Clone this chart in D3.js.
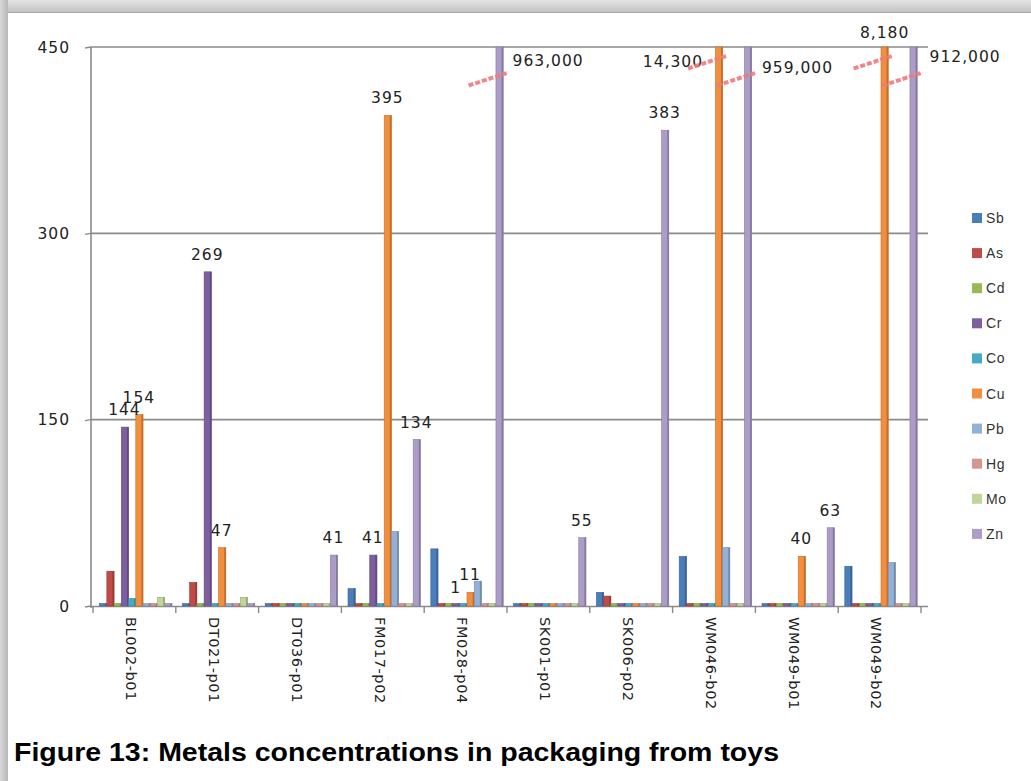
<!DOCTYPE html>
<html><head><meta charset="utf-8">
<script src="https://cdn.jsdelivr.net/npm/d3@7"></script>
<style>body{margin:0;background:#fff} svg{display:block}</style>
</head><body><svg id="c" width="1031" height="781"></svg>
<script>
const categories = ["BL002-b01","DT021-p01","DT036-p01","FM017-p02","FM028-p04","SK001-p01","SK006-p02","WM046-b02","WM049-b01","WM049-b02"];
const seriesNames = ["Sb","As","Cd","Cr","Co","Cu","Pb","Hg","Mo","Zn"];
const Sb = [0,0,0,14,46,0,11,40,0,32];
const As = [28,19,0,0,0,0,8,0,0,0];
const Cd = [0,0,0,0,0,0,0,0,0,0];
const Cr = [144,269,0,41,1,0,0,0,0,0];
const Co = [6,0,0,2,0,0,0,0,0,0];
const Cu = [154,47,0,395,11,0,0,14300,40,8180];
const Pb = [0,0,0,60,20,0,0,47,0,35];
const Hg = [0,0,0,0,0,0,0,0,0,0];
const Mo = [7,7,0,1,0,0,0,0,0,0];
const Zn = [0,0,41,134,963000,55,383,959000,63,912000];
const yTicks = [0,150,300,450];
const labelledSeries = ["Cr","Cu","Zn"];
const captionText = "Figure 13: Metals concentrations in packaging from toys";

const seriesValues = {Sb,As,Cd,Cr,Co,Cu,Pb,Hg,Mo,Zn};
const colors = {Sb:"#4a7ebb",As:"#be4b48",Cd:"#98b954",Cr:"#7d5fa0",Co:"#46aac4",
  Cu:"#f38e3c",Pb:"#93b1d6",Hg:"#d69593",Mo:"#c1d599",Zn:"#ab9cc8"};

const svg = d3.select("#c");

// frame
const defs = svg.append("defs");
const gt = defs.append("linearGradient").attr("id","gt").attr("x1",0).attr("y1",0).attr("x2",0).attr("y2",1);
gt.append("stop").attr("offset","0%").attr("stop-color","#e4e4e4");
gt.append("stop").attr("offset","100%").attr("stop-color","#c4c4c4");
const gl = defs.append("linearGradient").attr("id","gl").attr("x1",0).attr("y1",0).attr("x2",1).attr("y2",0);
gl.append("stop").attr("offset","0%").attr("stop-color","#d8d8d8");
gl.append("stop").attr("offset","100%").attr("stop-color","#b8b8b8");
svg.append("rect").attr("x",0).attr("y",0).attr("width",1031).attr("height",12).attr("fill","url(#gt)");
svg.append("rect").attr("x",0).attr("y",0).attr("width",8).attr("height",781).attr("fill","url(#gl)");
svg.append("line").attr("x1",8).attr("x2",1031).attr("y1",12.5).attr("y2",12.5).attr("stroke","#a8a8a8");

const x0 = d3.scaleBand().domain(categories).range([93, 921]).padding(0);
const x1 = d3.scaleBand().domain(seriesNames).range([6.6, 79]).padding(0);
const y = d3.scaleLinear().domain([0,450]).range([606,47]).clamp(true);

const axisCol = "#8a8a8a";
// gridlines
yTicks.filter(t=>t>0).forEach(t=>{
  svg.append("line").attr("x1",91).attr("x2",928).attr("y1",y(t)).attr("y2",y(t))
    .attr("stroke",axisCol).attr("stroke-width",1.6);
});
yTicks.forEach(t=>{
  svg.append("line").attr("x1",85).attr("x2",91).attr("y1",y(t)+1).attr("y2",y(t))
    .attr("stroke",axisCol).attr("stroke-width",1.4);
  svg.append("text").attr("x",70).attr("y",y(t)).attr("dy","0.36em").attr("text-anchor","end")
    .attr("font-family","DejaVu Sans").attr("font-size",15.5).attr("letter-spacing",1)
    .attr("fill","#222").text(t);
});
svg.append("line").attr("x1",91).attr("x2",91).attr("y1",47).attr("y2",608)
  .attr("stroke",axisCol).attr("stroke-width",1.6);

// floor / x axis
svg.append("line").attr("x1",91).attr("x2",928).attr("y1",606.5).attr("y2",606.5)
  .attr("stroke",axisCol).attr("stroke-width",1.6);
categories.concat([null]).forEach((c,i)=>{
  const xx = c ? x0(c) : x0.range()[1];
  svg.append("line").attr("x1",xx).attr("x2",xx).attr("y1",606).attr("y2",613)
    .attr("stroke",axisCol).attr("stroke-width",1.4);
});

// bars
const side = 1.6;
categories.forEach((cat,i)=>{
  const g = svg.append("g");
  seriesNames.forEach(s=>{
    const v = seriesValues[s][i];
    const bx = x0(cat)+x1(s);
    const w = x1.bandwidth();
    const top = Math.min(y(v), 603.5);
    const h = 606 - top;
    const col = d3.color(colors[s]);
    g.append("rect").attr("x",bx).attr("y",top).attr("width",w).attr("height",h)
      .attr("fill",colors[s]).attr("stroke",col.darker(0.6)).attr("stroke-width",0.6);
    g.append("rect").attr("x",bx+w-side).attr("y",top).attr("width",side).attr("height",h)
      .attr("fill",col.darker(0.7));
  });
});

// break marks for bars exceeding the axis
const fmt = d3.format(",");
const breakY = {Cu:62, Zn:79};
const brokenPlacement = {
  "FM028-p04|Zn": {anchor:"start", dx:13, y:66},
  "WM046-b02|Cu": {anchor:"end", dx:-16, y:67},
  "WM046-b02|Zn": {anchor:"start", dx:14, y:73},
  "WM049-b02|Cu": {anchor:"middle", dx:0, y:38},
  "WM049-b02|Zn": {anchor:"start", dx:16, y:62}
};
const labelFont = {family:"DejaVu Sans", size:15.5, ls:1};

categories.forEach((cat,i)=>{
  labelledSeries.forEach(s=>{
    const v = seriesValues[s][i];
    if (!v) return;
    const c = x0(cat)+x1(s)+x1.bandwidth()/2;
    const t = svg.append("text").attr("font-family",labelFont.family)
      .attr("font-size",labelFont.size).attr("letter-spacing",labelFont.ls).attr("fill","#222")
      .text(fmt(v));
    if (v > y.domain()[1]) {
      const by = breakY[s];
      svg.append("line").attr("x1",c-31).attr("y1",by+6.5).attr("x2",c+9).attr("y2",by-6.5)
        .attr("stroke","#f27a7a").attr("stroke-width",4).attr("stroke-dasharray","5,2")
        .attr("opacity",0.9);
      const p = brokenPlacement[cat+"|"+s] || {anchor:"start",dx:14,y:by};
      t.attr("x",c+p.dx).attr("y",p.y).attr("text-anchor",p.anchor);
    } else {
      t.attr("x",c-0.5).attr("y",y(v)-12).attr("text-anchor","middle");
    }
  });
});

// x labels
categories.forEach(cat=>{
  const cx = x0(cat)+x0.bandwidth()/2 - 3;
  svg.append("text").attr("transform",`translate(${cx},617) rotate(90)`)
    .attr("dy","0.36em").attr("font-family","DejaVu Sans").attr("font-size",14.5)
    .attr("letter-spacing",0.6).attr("fill","#222").text(cat);
});

// legend
seriesNames.forEach((s,i)=>{
  const ly = 218 + i*35.1;
  svg.append("rect").attr("x",972).attr("y",ly-5).attr("width",10).attr("height",10).attr("fill",colors[s]);
  svg.append("text").attr("x",986).attr("y",ly).attr("dy","0.36em")
    .attr("font-family","Liberation Sans").attr("font-size",14).attr("letter-spacing",0.6)
    .attr("fill","#333").text(s);
});

// caption
svg.append("text").attr("x",14).attr("y",761).attr("font-family","Liberation Sans")
  .attr("font-weight","bold").attr("font-size",25).attr("fill","#000")
  .attr("textLength",765).attr("lengthAdjust","spacingAndGlyphs").text(captionText);
</script>
</body></html>
